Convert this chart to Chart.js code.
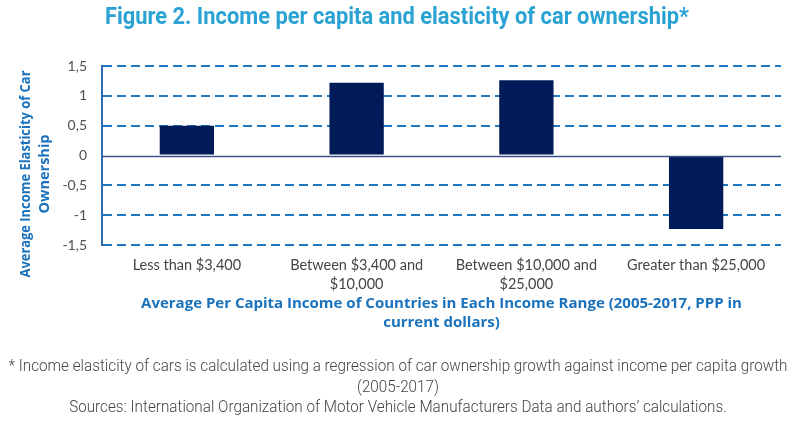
<!DOCTYPE html>
<html><head><meta charset="utf-8">
<script src="https://cdn.jsdelivr.net/npm/chart.js@4.4.1/dist/chart.umd.min.js"></script>
<style>html,body{margin:0;padding:0;background:#fff;} #wrap{width:802px;height:426px;position:relative}</style>
</head><body><div id="wrap"><canvas id="c" width="802" height="426"></canvas></div>
<script>
const categories = [['Less than $3,400'], ['Between $3,400 and', '$10,000'], ['Between $10,000 and', '$25,000'], ['Greater than $25,000']];
const elasticity = [0.50, 1.22, 1.26, -1.23];
const yTickValues = [-1.5, -1, -0.5, 0, 0.5, 1, 1.5];
const yTickLabels = ['-1,5', '-1', '-0,5', '0', '0,5', '1', '1,5'];
const chartTitle = 'Figure 2. Income per capita and elasticity of car ownership*';
const yAxisTitle = ['Average Income Elasticity of Car', 'Ownership'];
const xAxisTitle = ['Average Per Capita Income of Countries in Each Income Range (2005-2017, PPP in', 'current dollars)'];
const footnotes = ['* Income elasticity of cars is calculated using a regression of car ownership growth against income per capita growth', '(2005-2017)', 'Sources: International Organization of Motor Vehicle Manufacturers Data and authors\u2019 calculations.'];

const BODY = 'Lato, "Open Sans", sans-serif';
const BOLD = '"Open Sans", Lato, sans-serif';
const HEAD = 'Roboto, "Noto Sans", sans-serif';

const zeroLine = {
  id: 'zeroLine',
  afterDatasetsDraw(chart) {
    const {ctx, chartArea, scales} = chart;
    const y = Math.round(scales.y.getPixelForValue(0)) + 0.5;
    ctx.save();
    ctx.strokeStyle = '#3e5189';
    ctx.lineWidth = 1.5;
    ctx.beginPath();
    ctx.moveTo(chartArea.left, y);
    ctx.lineTo(chartArea.right, y);
    ctx.stroke();
    ctx.restore();
  }
};

function drawCondensed(ctx, lines, cx, y0, lh, targetWidth) {
  const w = Math.max(...lines.map(t => ctx.measureText(t).width));
  const sx = Math.min(1, targetWidth / w);
  ctx.save();
  ctx.scale(sx, 1);
  lines.forEach((t, i) => ctx.fillText(t, cx / sx, y0 + i * lh));
  ctx.restore();
}

const texts = {
  id: 'texts',
  afterDraw(chart) {
    const ctx = chart.ctx;
    ctx.save();
    ctx.textAlign = 'center';
    ctx.textBaseline = 'middle';
    ctx.fillStyle = '#2aa3d3';
    ctx.font = 'bold 23px ' + HEAD;
    drawCondensed(ctx, [chartTitle], 397, 18, 0, 584);
    ctx.fillStyle = '#454545';
    ctx.font = '300 16.5px ' + HEAD;
    drawCondensed(ctx, footnotes, 398, 367, 20.5, 779);
    ctx.fillStyle = '#1a72bd';
    ctx.font = 'bold 14.5px ' + BOLD;
    yAxisTitle.forEach((t, i) => {
      ctx.save();
      ctx.translate(26 + i * 19, 174);
      ctx.rotate(-Math.PI / 2);
      ctx.fillText(t, 0, 0, 207);
      ctx.restore();
    });
    ctx.restore();
  }
};

new Chart(document.getElementById('c'), {
  type: 'bar',
  data: {
    labels: categories,
    datasets: [{
      data: elasticity,
      backgroundColor: '#001b58',
      borderWidth: 0,
      barPercentage: 0.32,
      categoryPercentage: 1
    }]
  },
  options: {
    responsive: false,
    animation: false,
    devicePixelRatio: 1,
    layout: {padding: {top: 66, bottom: 69, left: 0, right: 21}},
    plugins: {legend: {display: false}, tooltip: {enabled: false}, title: {display: false}},
    scales: {
      x: {
        grid: {display: false, drawTicks: false},
        border: {display: false},
        ticks: {color: '#454545', padding: 10, font: {family: BODY, size: 14.5, lineHeight: 1.36}},
        title: {display: true, text: xAxisTitle, color: '#1a72bd', padding: {top: 0, bottom: 25},
                font: {family: BOLD, size: 15, weight: 'bold', lineHeight: 1.27}},
        afterFit(s) { s.height = 112; }
      },
      y: {
        min: -1.5, max: 1.5,
        afterBuildTicks(s) { s.ticks = yTickValues.map(v => ({value: v})); },
        grid: {
          drawTicks: false,
          color: c => (c.tick && c.tick.value === 0) ? 'rgba(0,0,0,0)' : '#1f78c0',
          lineWidth: 2
        },
        border: {display: true, color: '#2f6cb3', width: 2, dash: [9, 5]},
        ticks: {
          color: '#505050', padding: 15,
          font: {family: BODY, size: 14},
          callback: (v) => yTickLabels[yTickValues.indexOf(v)]
        },
        afterFit(s) { s.width = 102; }
      }
    }
  },
  plugins: [zeroLine, texts]
});
</script>
</body></html>
